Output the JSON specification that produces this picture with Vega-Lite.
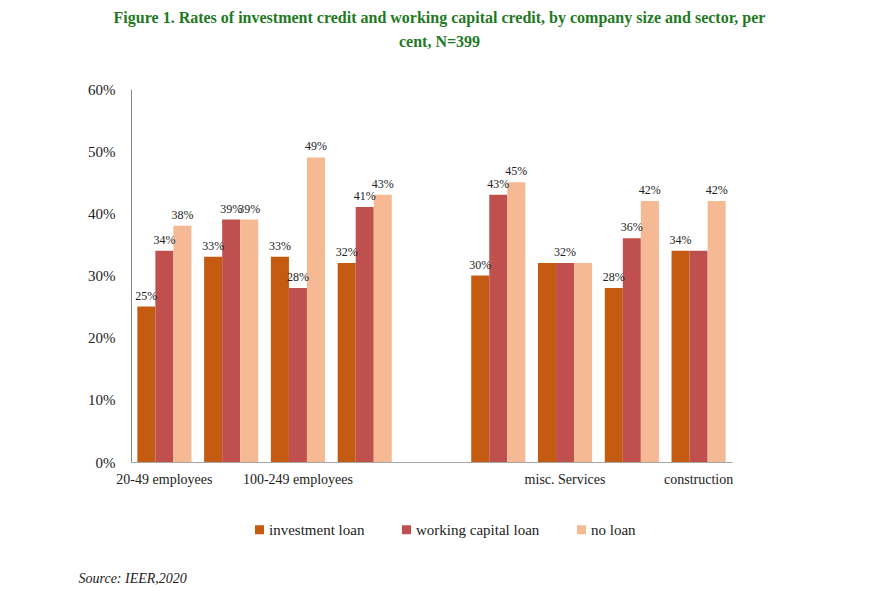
{
  "$schema": "https://vega.github.io/schema/vega-lite/v6.json",
  "width": 601,
  "height": 373,
  "autosize": "none",
  "padding": {"left": 131, "top": 89, "right": 149, "bottom": 129},
  "background": "white",
  "title": {
    "text": ["Figure 1. Rates of investment credit and working capital credit, by company size and sector, per", "cent, N=399"],
    "font": "Liberation Serif",
    "fontSize": 16,
    "fontWeight": "bold",
    "color": "#1F7A1F",
    "anchor": "middle",
    "frame": "group",
    "dx": 8,
    "offset": 32,
    "lineHeight": 24
  },
  "config": {
    "view": {"stroke": null},
    "font": "Liberation Serif",
    "legend": {"labelFont": "Liberation Serif"}
  },
  "data": {
    "values": [
      {"group": "20-49 employees", "series": "investment loan", "value": 0.25, "label": "25%"},
      {"group": "20-49 employees", "series": "working capital loan", "value": 0.34, "label": "34%"},
      {"group": "20-49 employees", "series": "no loan", "value": 0.38, "label": "38%"},
      {"group": "50-99 employees", "series": "investment loan", "value": 0.33, "label": "33%"},
      {"group": "50-99 employees", "series": "working capital loan", "value": 0.39, "label": "39%"},
      {"group": "50-99 employees", "series": "no loan", "value": 0.39, "label": "39%"},
      {"group": "100-249 employees", "series": "investment loan", "value": 0.33, "label": "33%"},
      {"group": "100-249 employees", "series": "working capital loan", "value": 0.28, "label": "28%"},
      {"group": "100-249 employees", "series": "no loan", "value": 0.49, "label": "49%"},
      {"group": "250+ employees", "series": "investment loan", "value": 0.32, "label": "32%"},
      {"group": "250+ employees", "series": "working capital loan", "value": 0.41, "label": "41%"},
      {"group": "250+ employees", "series": "no loan", "value": 0.43, "label": "43%"},
      {"group": "industry", "series": "investment loan", "value": 0.30, "label": "30%"},
      {"group": "industry", "series": "working capital loan", "value": 0.43, "label": "43%"},
      {"group": "industry", "series": "no loan", "value": 0.45, "label": "45%"},
      {"group": "misc. Services", "series": "investment loan", "value": 0.32, "label": ""},
      {"group": "misc. Services", "series": "working capital loan", "value": 0.32, "label": "32%"},
      {"group": "misc. Services", "series": "no loan", "value": 0.32, "label": ""},
      {"group": "trade", "series": "investment loan", "value": 0.28, "label": "28%"},
      {"group": "trade", "series": "working capital loan", "value": 0.36, "label": "36%"},
      {"group": "trade", "series": "no loan", "value": 0.42, "label": "42%"},
      {"group": "construction", "series": "investment loan", "value": 0.34, "label": "34%"},
      {"group": "construction", "series": "working capital loan", "value": 0.34, "label": ""},
      {"group": "construction", "series": "no loan", "value": 0.42, "label": "42%"}
    ]
  },
  "encoding": {
    "x": {
      "field": "group",
      "type": "nominal",
      "scale": {
        "domain": ["20-49 employees", "50-99 employees", "100-249 employees", "250+ employees", " ", "industry", "misc. Services", "trade", "construction"],
        "paddingInner": 0.19,
        "paddingOuter": 0.095
      },
      "axis": {
        "title": "Source: IEER,2020",
        "titleX": -53,
        "titleY": 116,
        "titleAlign": "left",
        "titleBaseline": "middle",
        "titleFontStyle": "italic",
        "titleFontWeight": "normal",
        "titleFontSize": 14,
        "titleColor": "#222222",
        "labelAngle": 0,
        "ticks": false,
        "domainColor": "#A6A6A6",
        "labelFontSize": 14,
        "labelPadding": 10,
        "labelColor": "#222222",
        "labelExpr": "indexof(['20-49 employees','100-249 employees','misc. Services','construction'], datum.value) >= 0 ? datum.value : ''"
      }
    },
    "xOffset": {
      "field": "series",
      "type": "nominal",
      "scale": {"domain": ["investment loan", "working capital loan", "no loan"]}
    },
    "y": {
      "field": "value",
      "type": "quantitative",
      "scale": {"domain": [0, 0.6]},
      "axis": {
        "title": null,
        "format": ".0%",
        "values": [0, 0.1, 0.2, 0.3, 0.4, 0.5, 0.6],
        "ticks": false,
        "grid": false,
        "domainColor": "#888888",
        "labelFontSize": 15,
        "labelPadding": 16,
        "labelColor": "#222222"
      }
    }
  },
  "layer": [
    {
      "mark": {"type": "bar"},
      "encoding": {
        "color": {
          "field": "series",
          "type": "nominal",
          "scale": {
            "domain": ["investment loan", "working capital loan", "no loan"],
            "range": ["#C55A11", "#C0504D", "#F5B994"]
          },
          "legend": {
            "orient": "none",
            "legendX": 121,
            "legendY": 433,
            "direction": "horizontal",
            "title": null,
            "symbolType": "square",
            "symbolSize": 81,
            "symbolStrokeWidth": 0,
            "labelFontSize": 15,
            "labelFont": "Liberation Serif",
            "labelColor": "#222222",
            "columnPadding": 34,
            "labelOffset": 2
          }
        }
      }
    },
    {
      "mark": {"type": "text", "baseline": "bottom", "dy": -4, "fontSize": 12, "color": "#222222"},
      "encoding": {"text": {"field": "label"}}
    }
  ]
}
